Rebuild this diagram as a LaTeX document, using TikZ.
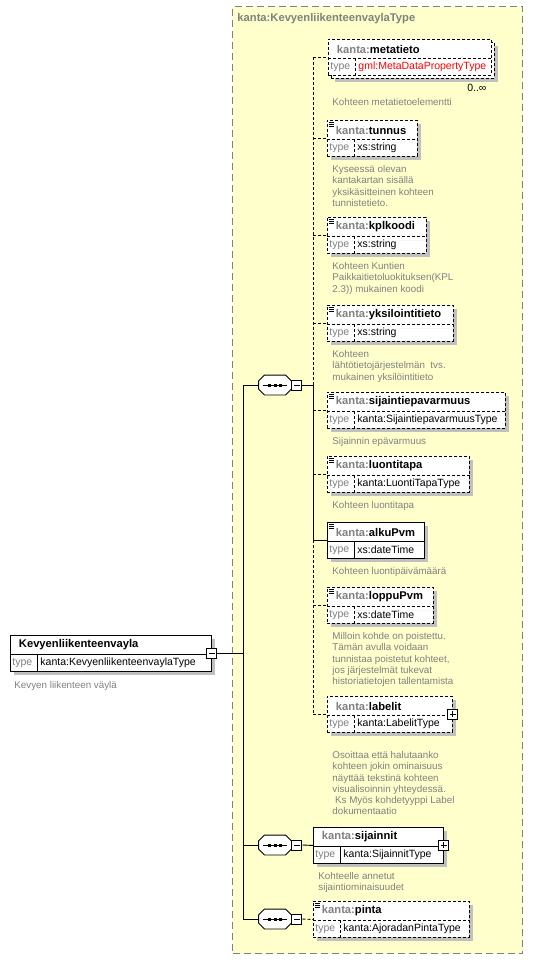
\documentclass[tikz,border=0pt]{standalone}
\usepackage{fontspec}
\setmainfont{Liberation Sans}
\usetikzlibrary{shadows,positioning}

\definecolor{ctypeyellow}{HTML}{FFFFCC}
\definecolor{shadowgray}{HTML}{C0C0C0}
\definecolor{labelgray}{HTML}{808080}

\tikzset{
  shd/.style={drop shadow={shadow xshift=4pt,shadow yshift=-4pt,fill=shadowgray,opacity=1}},
  box/.style={draw, fill=white, inner sep=0pt, minimum height=36pt, anchor=north west},
  opt/.style={dash pattern=on 3pt off 2pt},
  req/.style={solid},
  hdr/.style={anchor=west, inner sep=0pt, font=\fontsize{11.2}{13}\selectfont\bfseries},
  typ/.style={anchor=west, inner sep=0pt, font=\fontsize{10.5}{12}\selectfont},
  doc/.style={anchor=north west, inner sep=0pt, align=left, text=labelgray,
    font=\fontsize{9.8}{11.3}\selectfont},
  pm/.style={draw, solid, fill=white, minimum size=10pt, inner sep=0pt},
  minus/.style={pm, path picture={\draw ([xshift=2pt]path picture bounding box.west)
    -- ([xshift=-2pt]path picture bounding box.east);}},
  plus/.style={pm, path picture={\draw ([xshift=2pt]path picture bounding box.west)
    -- ([xshift=-2pt]path picture bounding box.east)
    ([yshift=-2pt]path picture bounding box.north)
    -- ([yshift=2pt]path picture bounding box.south);}},
  seq/.style={minimum width=32pt, minimum height=19pt, inner sep=0pt},
  ctypebox/.style={draw=labelgray, fill=ctypeyellow, line width=1.3pt, dash pattern=on 7pt off 4pt,
    anchor=north west, inner sep=0pt}
}

\newcommand{\kanta}{\textcolor{labelgray}{kanta:}}
% #1 line style, #2 name, #3 position, #4 width, #5 header, #6 type
\newcommand{\elem}[6]{%
  \node[box,#1,minimum width=#4pt] (#2) at #3 {};
  \draw[#1] ([yshift=-19pt]#2.north west) -- ([yshift=-19pt]#2.north east);
  \draw[#1] ([shift={(27pt,-19pt)}]#2.north west) -- ([xshift=27pt]#2.south west);
  \node[hdr] (#2-h) at ([shift={(8.5pt,-10pt)}]#2.north west) {#5};
  \node[typ,text=labelgray] (#2-k) at ([shift={(2pt,-28pt)}]#2.north west) {type};
  \node[typ] (#2-t) at ([shift={(30pt,-28pt)}]#2.north west) {#6};
}
\newcommand{\simpleicon}[1]{%
  \foreach \k in {2,4,6}
    \draw[line width=0.6pt] ([shift={(2pt,-\k pt)}]#1.north west) -- ++(5pt,0);
}
% sequence compositor: octagon with three dots
\newcommand{\octa}[1]{([yshift=4pt]#1.west) -- ([xshift=6pt]#1.north west)
  -- ([xshift=-6pt]#1.north east) -- ([yshift=4pt]#1.east) -- ([yshift=-4pt]#1.east)
  -- ([xshift=-6pt]#1.south east) -- ([xshift=6pt]#1.south west) -- ([yshift=-4pt]#1.west) -- cycle}
\newcommand{\sequence}[2]{%
  \node[seq] (#1) at #2 {};
  \fill[shadowgray, xshift=4pt, yshift=-4pt] \octa{#1};
  \filldraw[fill=white] \octa{#1};
  \draw ([xshift=4pt]#1.west) -- ([xshift=-4pt]#1.east);
  \foreach \d in {-5.5,0,5.5}
    \fill ([xshift=\d pt]#1.center) +(-1.5pt,-1.5pt) rectangle +(1.5pt,1.5pt);
  \node[minus, right=0pt of #1] (#1-m) {};
}

\begin{document}
\begin{tikzpicture}[x=1pt,y=-1pt,line width=0.9pt]
\useasboundingbox (0,0) rectangle (534,960);

\node[ctypebox, minimum width=290pt, minimum height=947pt] (ctype) at (232,6) {};
\node[hdr, text=labelgray] (ctype-h) at (237,19) {kanta:KevyenliikenteenvaylaType};

\elem{req,shd}{root}{(10,635)}{201}{Kevyenliikenteenvayla}{kanta:KevyenliikenteenvaylaType}
\node[doc] (root-doc) at ([shift={(4pt,-9pt)}]root.south west) {Kevyen liikenteen väylä};
\node[minus] (root-m) at (root.east) {};

\sequence{seq1}{(275,385)}
\sequence{seq2}{(275,845)}
\sequence{seq3}{(275,919)}

\node[box,opt,shd,minimum width=163pt] (metatieto-back) at (331,42) {};
\elem{opt}{metatieto}{(328,39)}{163}{\kanta metatieto}{\textcolor{red}{gml:MetaDataPropertyType}}
\node[typ, anchor=east] (metatieto-n) at ([shift={(-8pt,-9pt)}]metatieto-back.south east) {0..∞};
\node[doc] (metatieto-doc) at ([shift={(4pt,-22pt)}]metatieto.south west) {Kohteen metatietoelementti};

\elem{opt,shd}{tunnus}{(327,120)}{90}{\kanta tunnus}{xs:string}
\simpleicon{tunnus}
\node[doc] (tunnus-doc) at ([shift={(5pt,-8pt)}]tunnus.south west)
  {Kyseessä olevan\\kantakartan sisällä\\yksikäsitteinen kohteen\\tunnistetieto.};

\elem{opt,shd}{kplkoodi}{(327,217)}{99}{\kanta kplkoodi}{xs:string}
\simpleicon{kplkoodi}
\node[doc] (kplkoodi-doc) at ([shift={(5pt,-8pt)}]kplkoodi.south west)
  {Kohteen Kuntien\\Paikkaitietoluokituksen(KPL\\2.3)) mukainen koodi};

\elem{opt,shd}{yksilointitieto}{(327,305)}{126}{\kanta yksilointitieto}{xs:string}
\simpleicon{yksilointitieto}
\node[doc] (yksilointitieto-doc) at ([shift={(5pt,-8pt)}]yksilointitieto.south west)
  {Kohteen\\lähtötietojärjestelmän\ \ tvs.\\mukainen yksilöintitieto};

\elem{opt,shd}{sijaintiepavarmuus}{(327,392)}{178}{\kanta sijaintiepavarmuus}{kanta:SijaintiepavarmuusType}
\simpleicon{sijaintiepavarmuus}
\node[doc] (sijaintiepavarmuus-doc) at ([shift={(5pt,-8pt)}]sijaintiepavarmuus.south west)
  {Sijainnin epävarmuus};

\elem{opt,shd}{luontitapa}{(327,456)}{142}{\kanta luontitapa}{kanta:LuontiTapaType}
\simpleicon{luontitapa}
\node[doc] (luontitapa-doc) at ([shift={(5pt,-8pt)}]luontitapa.south west) {Kohteen luontitapa};

\elem{req,shd}{alkuPvm}{(327,522)}{97}{\kanta alkuPvm}{xs:dateTime}
\simpleicon{alkuPvm}
\node[doc] (alkuPvm-doc) at ([shift={(5pt,-8pt)}]alkuPvm.south west) {Kohteen luontipäivämäärä};

\elem{opt,shd}{loppuPvm}{(327,587)}{106}{\kanta loppuPvm}{xs:dateTime}
\simpleicon{loppuPvm}
\node[doc] (loppuPvm-doc) at ([shift={(5pt,-8pt)}]loppuPvm.south west)
  {Milloin kohde on poistettu.\\Tämän avulla voidaan\\tunnistaa poistetut kohteet,\\jos järjestelmät tukevat\\historiatietojen tallentamista};

\elem{opt,shd}{labelit}{(327,696)}{125}{\kanta labelit}{kanta:LabelitType}
\node[plus] (labelit-p) at (labelit.east) {};
\node[doc] (labelit-doc) at ([shift={(5pt,-18pt)}]labelit.south west)
  {Osoittaa että halutaanko\\kohteen jokin ominaisuus\\näyttää tekstinä kohteen\\visualisoinnin yhteydessä.\\\ Ks Myös kohdetyyppi Label\\dokumentaatio};

\elem{req,shd}{sijainnit}{(313,827)}{130}{\kanta sijainnit}{kanta:SijainnitType}
\node[plus] (sijainnit-p) at (sijainnit.east) {};
\node[doc] (sijainnit-doc) at ([shift={(5pt,-8pt)}]sijainnit.south west)
  {Kohteelle annetut\\sijaintiominaisuudet};

\elem{opt,shd}{pinta}{(313,901)}{156}{\kanta pinta}{kanta:AjoradanPintaType}
\simpleicon{pinta}

\coordinate (spine) at (243,385);
\coordinate (bus) at (313,385);
\draw (root-m.east) -- (root-m.east -| spine);
\draw (seq1.west) -- (seq1.west -| spine) |- (seq3.west);
\draw (seq2.west) -- (seq2.west -| spine);
\draw (seq1-m.east) -- (bus);
\draw[opt] (metatieto.west -| bus) -- (bus);
\draw (bus) -- (alkuPvm.west -| bus);
\draw[opt] (alkuPvm.west -| bus) -- (labelit.west -| bus);
\foreach \e in {metatieto,tunnus,kplkoodi,yksilointitieto,sijaintiepavarmuus,luontitapa,loppuPvm,labelit}
  \draw[opt] (\e.west -| bus) -- (\e.west);
\draw (alkuPvm.west -| bus) -- (alkuPvm.west);
\draw (seq2-m.east) -- (sijainnit.west);
\draw[opt] (seq3-m.east) -- (pinta.west);
\end{tikzpicture}
\end{document}
